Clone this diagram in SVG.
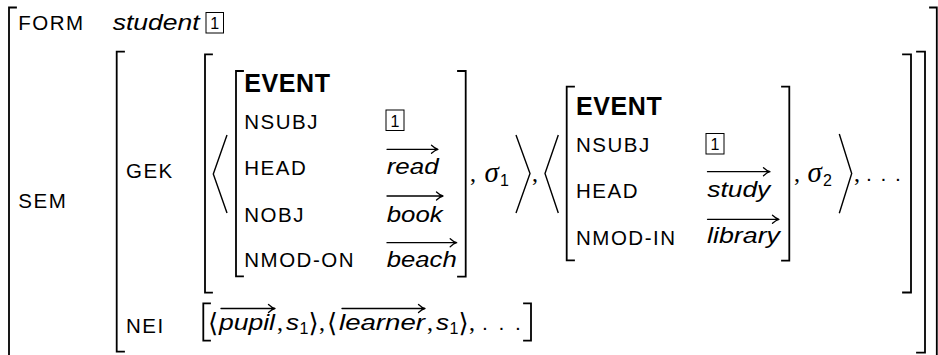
<svg xmlns="http://www.w3.org/2000/svg" width="938" height="355" viewBox="0 0 938 355">
<style>
.br{fill:none;stroke:#000;stroke-width:1.8;stroke-linecap:square}
.ang{fill:none;stroke:#000;stroke-width:1.4}
.arr{fill:none;stroke:#000;stroke-width:1.3;stroke-linecap:round}
.box{fill:none;stroke:#000;stroke-width:1}
.lab{font-family:"Liberation Sans",Arial,sans-serif;font-size:20.5px;letter-spacing:1.5px;fill:#000}
.ev{font-family:"Liberation Sans",Arial,sans-serif;font-size:25px;font-weight:bold;letter-spacing:0.6px;fill:#000}
.val{font-family:"Liberation Sans",Arial,sans-serif;font-size:22.5px;font-style:italic;fill:#000}
.num{font-family:"Liberation Sans",Arial,sans-serif;font-size:16px;fill:#000;text-anchor:middle}
.sub{font-family:"Liberation Sans",Arial,sans-serif;font-size:16px;fill:#000}
.math{font-family:"Liberation Serif","Times New Roman",serif;font-size:29px;font-style:italic;fill:#000}
.pun{font-family:"Liberation Serif","Times New Roman",serif;font-size:24px;fill:#000}
.agl{font-family:"DejaVu Sans",sans-serif;font-size:26px;fill:#000}
.dots{font-family:"Liberation Sans",Arial,sans-serif;font-size:21px;fill:#000}
</style>
<rect width="938" height="355" fill="#fff"/>

<g id="outer">
<path class="br" d="M16,7.5 H9 V362"/>
<path class="br" d="M930,7.5 H936.8 V362"/>
<text class="lab" x="18.3" y="29.5">FORM</text>
<text class="val" x="112.7" y="29.5" textLength="87" lengthAdjust="spacingAndGlyphs">student</text>
<rect class="box" x="206" y="12.5" width="17.5" height="20.5"/>
<text class="num" x="214.8" y="29">1</text>
<text class="lab" x="18.3" y="208.3">SEM</text>
</g>

<g id="sem">
<path class="br" d="M124,51.7 H116.7 V351.7 H124"/>
<path class="br" d="M917,51.7 H925 V352.7 H917"/>
<text class="lab" x="126" y="178.3">GEK</text>
<text class="lab" x="126" y="333.3">NEI</text>
</g>

<g id="gek">
<path class="br" d="M212,54.3 H205 V292.7 H212"/>
<path class="br" d="M903,54.3 H911 V292.5 H903"/>
<path class="ang" d="M227,135 L213.3,174 L227,213"/>
<path class="ang" d="M516,135 L530,173.5 L516,213"/>
<path class="ang" d="M558.3,135 L545,173.5 L558.3,213"/>
<path class="ang" d="M839.3,134 L851.7,173.5 L839.3,213.3"/>
<text class="pun" x="470" y="181">,</text>
<text class="math" x="484.5" y="181.5">σ</text>
<text class="sub" x="500" y="185.5">1</text>
<text class="pun" x="532" y="181">,</text>
<text class="pun" x="794" y="181">,</text>
<text class="math" x="807.5" y="181.5">σ</text>
<text class="sub" x="823" y="185.5">2</text>
<text class="pun" x="854" y="181">,</text>
<text class="dots" x="866" y="181" style="letter-spacing:1.4px">. . .</text>
</g>

<g id="event1">
<path class="br" d="M243,71 H236 V276.3 H243"/>
<path class="br" d="M458,71 H465.7 V276.7 H458"/>
<text class="ev" x="244.3" y="91.7">EVENT</text>
<text class="lab" x="244.3" y="129.3">NSUBJ</text>
<text class="lab" x="244.3" y="175">HEAD</text>
<text class="lab" x="244.3" y="221.7">NOBJ</text>
<text class="lab" x="244.3" y="266.7">NMOD-ON</text>
<rect class="box" x="386" y="110" width="18" height="20.5"/>
<text class="num" x="395" y="126.5">1</text>
<text class="val" x="386.7" y="174.3" textLength="52" lengthAdjust="spacingAndGlyphs">read</text>
<text class="val" x="386.7" y="221.7" textLength="56" lengthAdjust="spacingAndGlyphs">book</text>
<text class="val" x="386.7" y="266.7" textLength="70" lengthAdjust="spacingAndGlyphs">beach</text>
</g>

<g id="event2">
<path class="br" d="M574,86.7 H566.7 V260.3 H574"/>
<path class="br" d="M782,86.7 H789.3 V260.7 H782"/>
<text class="ev" x="576" y="115">EVENT</text>
<text class="lab" x="576" y="151.7">NSUBJ</text>
<text class="lab" x="576" y="198.3">HEAD</text>
<text class="lab" x="576" y="245">NMOD-IN</text>
<rect class="box" x="706" y="133.5" width="18" height="20.5"/>
<text class="num" x="715" y="150">1</text>
<text class="val" x="707.3" y="196.7" textLength="63" lengthAdjust="spacingAndGlyphs">study</text>
<text class="val" x="707" y="243.3" textLength="73" lengthAdjust="spacingAndGlyphs">library</text>
</g>

<g id="nei">
<path class="br" d="M210,303.3 H203.3 V340.7 H210"/>
<path class="br" d="M524,303.3 H531 V340.7 H524"/>
<text class="agl" x="208" y="332">⟨</text>
<text class="val" x="219" y="330" textLength="56" lengthAdjust="spacingAndGlyphs">pupil</text>
<text class="pun" x="277" y="330">,</text>
<text class="val" x="286" y="330" textLength="13" lengthAdjust="spacingAndGlyphs">s</text>
<text class="sub" x="299.5" y="334">1</text>
<text class="agl" x="308.5" y="332">⟩</text>
<text class="pun" x="319" y="330">,</text>
<text class="agl" x="327" y="332">⟨</text>
<text class="val" x="339" y="330" textLength="86" lengthAdjust="spacingAndGlyphs">learner</text>
<text class="pun" x="427" y="330">,</text>
<text class="val" x="436" y="330" textLength="13" lengthAdjust="spacingAndGlyphs">s</text>
<text class="sub" x="449.5" y="334">1</text>
<text class="agl" x="458.5" y="332">⟩</text>
<text class="pun" x="469" y="330">,</text>
<text class="dots" x="482" y="330" style="letter-spacing:2.4px">. . .</text>
</g>

<g id="connectors">
<path class="arr" d="M387,149.3 H438 M431.5,145.3 Q435,148.6 438,149.3 Q435,150 431.5,153.3"/>
<path class="arr" d="M387,196 H443 M436.5,192 Q440,195.3 443,196 Q440,196.7 436.5,200"/>
<path class="arr" d="M387,242.7 H456.7 M450.2,238.7 Q453.7,242 456.7,242.7 Q453.7,243.4 450.2,246.7"/>
<path class="arr" d="M707.5,171.7 H770 M763.5,167.7 Q767,171 770,171.7 Q767,172.4 763.5,175.7"/>
<path class="arr" d="M707.5,219.3 H779 M772.5,215.3 Q776,218.6 779,219.3 Q776,220 772.5,223.3"/>
<path class="arr" d="M221,308.5 H275 M268.5,304.5 Q272,307.8 275,308.5 Q272,309.2 268.5,312.5"/>
<path class="arr" d="M342,308.5 H425 M418.5,304.5 Q422,307.8 425,308.5 Q422,309.2 418.5,312.5"/>
</g>
</svg>
